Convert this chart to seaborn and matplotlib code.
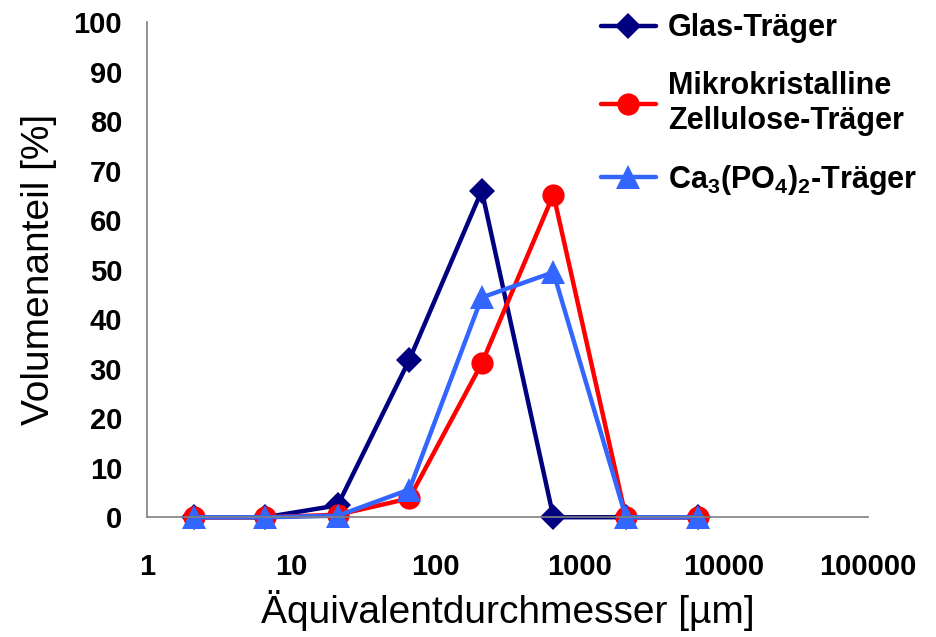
import matplotlib
matplotlib.use("Agg")
import matplotlib.pyplot as plt
import seaborn as sns
import pandas as pd

# Particle size classes (µm) and volume fractions (%) per carrier
diameter = [2.1, 6.6, 21, 66, 210, 660, 2100, 6600]
glas = [0, 0, 2.4, 31.8, 66.0, 0, 0, 0]
zellulose = [0, 0, 0.5, 3.8, 31.1, 65.2, 0, 0]
calcium = [0, 0, 0.3, 5.6, 44.4, 49.5, 0, 0]

labels = ["Glas-Träger",
          "Mikrokristalline\nZellulose-Träger",
          r"Ca$_\mathrm{3}$(PO$_\mathrm{4}$)$_\mathrm{2}$-Träger"]
colors = ["#000080", "#FF0000", "#3366FF"]
markers = ["D", "o", "^"]
msizes = [13, 16, 17]

sns.set_theme(style="white")
plt.rcParams["font.family"] = ["Liberation Sans", "DejaVu Sans"]
plt.rcParams["text.color"] = "black"
plt.rcParams["axes.labelcolor"] = "black"
plt.rcParams["xtick.color"] = "black"
plt.rcParams["ytick.color"] = "black"
plt.rcParams["mathtext.fontset"] = "custom"
plt.rcParams["mathtext.rm"] = "Liberation Sans:bold"
plt.rcParams["mathtext.it"] = "Liberation Sans:bold"
plt.rcParams["mathtext.bf"] = "Liberation Sans:bold"

df = pd.concat([
    pd.DataFrame({"d": diameter, "v": vals, "serie": lab})
    for vals, lab in zip([glas, zellulose, calcium], labels)
])

fig = plt.figure(figsize=(9.37, 6.37), dpi=100)
ax = fig.add_axes([0.157, 0.188, 0.769, 0.777])

for lab, col, mk, ms in zip(labels, colors, markers, msizes):
    sub = df[df["serie"] == lab]
    sns.lineplot(data=sub, x="d", y="v", ax=ax, color=col, marker=mk,
                 markersize=ms, markeredgecolor=col, markeredgewidth=0,
                 linewidth=3.2, label=lab, clip_on=False, estimator=None)

ax.set_xscale("log")
ax.set_xlim(1, 100000)
ax.set_ylim(0, 100)
ax.set_xticks([1, 10, 100, 1000, 10000, 100000])
ax.set_xticklabels(["1", "10", "100", "1000", "10000", "100000"])
ax.xaxis.set_minor_locator(matplotlib.ticker.NullLocator())
ax.set_yticks(range(0, 101, 10))

for s in ["top", "right"]:
    ax.spines[s].set_visible(False)
for s in ["left", "bottom"]:
    ax.spines[s].set_color("#808080")
    ax.spines[s].set_linewidth(1.2)

ax.tick_params(axis="both", which="major", direction="out", length=6,
               width=1.2, color="#808080", labelcolor="black",
               labelsize=21, pad=12)
ax.tick_params(axis="x", pad=20)
for t in ax.get_xticklabels() + ax.get_yticklabels():
    t.set_fontweight("bold")

ax.set_xlabel("Äquivalentdurchmesser [µm]", fontsize=28, labelpad=6,
              color="black")
ax.set_ylabel("Volumenanteil [%]", fontsize=28, labelpad=12, color="black")

ax.get_legend().remove()
handles, labs = ax.get_legend_handles_labels()
leg = fig.legend(handles, labs, loc="upper left",
                 bbox_to_anchor=(0.628, 0.998), frameon=False,
                 prop={"weight": "bold", "size": 22},
                 handlelength=1.8, handletextpad=0.4, labelspacing=0.9,
                 borderaxespad=0)
for t in leg.get_texts():
    t.set_color("black")

fig.savefig("out.png", dpi=100)
